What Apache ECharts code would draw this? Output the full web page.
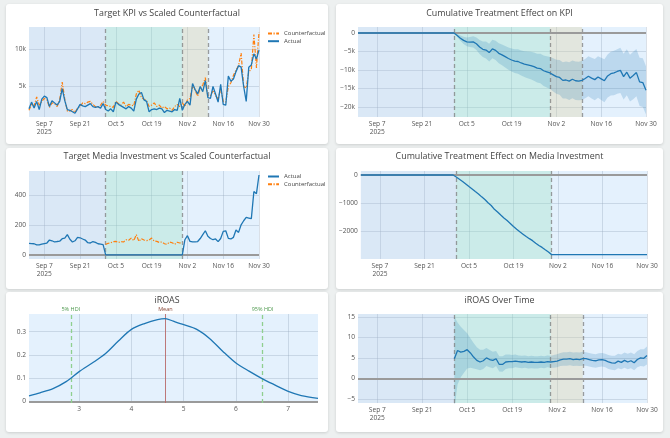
<!DOCTYPE html>
<html>
<head>
<meta charset="utf-8">
<script src="https://cdn.jsdelivr.net/npm/echarts@6/dist/echarts.min.js"></script>
<style>
  html, body { margin: 0; padding: 0; width: 670px; height: 438px; overflow: hidden; background: #edf0f0; }
  .card { position: absolute; background: #fff; border-radius: 3px; box-shadow: 0 1px 3px rgba(0,0,0,0.14); }
  .card > div { width: 100%; height: 100%; }
</style>
</head>
<body>
<div class="card" style="left:6px;top:4px;width:322px;height:140px"><div id="kpi"></div></div>
<div class="card" style="left:336px;top:4px;width:327px;height:140px"><div id="kpiCum"></div></div>
<div class="card" style="left:6px;top:148px;width:322px;height:141px"><div id="media"></div></div>
<div class="card" style="left:336px;top:148px;width:327px;height:141px"><div id="mediaCum"></div></div>
<div class="card" style="left:6px;top:292px;width:322px;height:140px"><div id="iroas"></div></div>
<div class="card" style="left:336px;top:292px;width:327px;height:140px"><div id="iroasTime"></div></div>

<script>
// daily axis Sep 1 - Nov 30 2025
const months = ["Jan","Feb","Mar","Apr","May","Jun","Jul","Aug","Sep","Oct","Nov","Dec"];
const nDays = 91;
const dates = [];
for (let i = 0; i < nDays; i++) {
  const d = new Date(2025, 8, 1 + i);
  dates.push(months[d.getMonth()] + " " + d.getDate());
}
const treatStart = 30, treatEnd = 60, coolEnd = 70; // Oct 1, Oct 31, Nov 10

// target KPI
const kpiActual = [2000,2900,2100,3000,1900,3300,3700,3500,2300,3100,2800,2500,3000,4700,3100,1900,1800,1600,1400,2000,
  2600,2400,2300,2500,2700,2300,2200,2300,2100,2700,1900,1700,2000,1600,2900,2600,2400,2200,2000,2300,
  2100,1700,3300,4000,4200,3200,3000,1600,1900,2000,1900,2100,2000,1500,1800,1700,1600,1900,1800,3400,
  1800,2600,3000,2500,5400,4600,4000,5000,4300,5800,3500,3400,5000,4000,2900,5300,2600,2500,6400,5700,
  6000,7000,7800,7600,5000,3000,7600,7900,9400,8700,9900];
const kpiCounterfactual = [1800,2600,2400,3600,2500,3000,3400,3200,2200,2800,2700,2300,3200,5600,3300,1700,1700,1900,1500,2100,
  2300,2800,2700,2900,3000,2600,2300,2200,2500,3000,2500,2400,2300,2200,3000,2700,2500,2900,2300,2600,
  2500,2400,4000,4500,3500,3300,3100,2300,2500,2800,2300,2500,2100,2300,2000,2100,1800,2300,2600,2300,
  2800,2300,3200,3400,5000,4500,3700,4800,5200,6200,3700,3800,4400,3800,3300,4700,3000,2900,5000,5500,
  6500,7200,7800,9500,5000,4800,7000,7300,12000,7500,12300];

// cumulative treatment effect on KPI
const kpiCumEffect = [0,0,0,0,0,0,0,0,0,0,0,0,0,0,0,0,0,0,0,0,0,0,0,0,0,0,0,0,0,0,
  0,-700,-1400,-2000,-2400,-2450,-2400,-2900,-3800,-4400,-4600,-5300,-4300,-4700,-5500,-5900,-6400,-6900,-7300,-7600,
  -7700,-8100,-8400,-8600,-8800,-9100,-9500,-9600,-10200,-10500,-10800,-11300,-11800,-12000,-12800,-12700,-13000,-12500,-12900,-13000,
  -12800,-12300,-11700,-12200,-12600,-11900,-12400,-12900,-11600,-11000,-10800,-10400,-10100,-11800,-10600,-12200,-11500,-10700,-13200,-13400,-15500];
const kpiCumUpper = [0,-300,-700,-1000,-1200,-1100,-900,-1200,-1900,-2300,-2300,-2900,-1800,-2100,-2800,-3100,-3500,-3900,-4200,-4400,
  -4400,-4700,-4900,-5000,-5100,-5300,-5600,-5600,-6100,-6300,-6500,-6800,-7200,-7300,-7900,-7700,-7900,-7400,-7700,-7800,
  -7500,-7000,-6300,-6700,-7000,-6300,-6700,-7100,-5800,-5100,-4800,-4400,-4000,-5600,-4400,-5900,-5100,-4300,-6700,-6800,-9000];
const kpiCumLower = [0,-1100,-2100,-3000,-3600,-3800,-3900,-4600,-5700,-6500,-6900,-7700,-6800,-7300,-8200,-8700,-9300,-9900,-10400,-10800,
  -11000,-11500,-11900,-12200,-12500,-12900,-13400,-13600,-14300,-14700,-15100,-15800,-16400,-16700,-17700,-17700,-18100,-17600,-18100,-18200,
  -18100,-17600,-17100,-17700,-18200,-17500,-18100,-18700,-17400,-16900,-16800,-16400,-16200,-18000,-16800,-18500,-17900,-17100,-19700,-20000,-22000];

// media investment
const mediaActual = [78,76,75,68,67,72,76,80,100,95,87,90,92,109,112,136,105,87,95,118,
  115,107,100,82,80,90,84,75,72,69,0,0,0,0,0,0,0,0,0,0,
  0,0,0,0,0,0,0,0,0,0,0,0,0,0,0,0,0,0,0,0,
  0,102,129,91,88,87,90,110,136,162,125,110,102,107,89,110,158,162,111,107,
  118,167,151,202,229,251,247,243,425,410,535];
const mediaCounterfactual = [71,78,82,89,91,84,90,87,102,98,113,96,136,91,109,100,96,100,113,93,
  91,84,87,75,71,87,82,71,85,80,82];
const mediaCumEffect = [0,0,0,0,0,0,0,0,0,0,0,0,0,0,0,0,0,0,0,0,0,0,0,0,0,0,0,0,0,0,
  -70,-150,-230,-320,-410,-495,-585,-670,-775,-870,-985,-1080,-1215,-1310,-1420,-1520,-1615,-1715,-1825,-1920,
  -2010,-2095,-2180,-2255,-2325,-2415,-2495,-2565,-2650,-2730,-2820,
  -2820,-2820,-2820,-2820,-2820,-2820,-2820,-2820,-2820,-2820,-2820,-2820,-2820,-2820,-2820,
  -2820,-2820,-2820,-2820,-2820,-2820,-2820,-2820,-2820,-2820,-2820,-2820,-2820,-2820,-2820];

// iROAS posterior density
const iroasX = [2.04,2.25,2.5,2.75,3.0,3.25,3.5,3.75,4.0,4.25,4.5,4.65,4.8,5.0,5.25,5.5,5.75,6.0,6.25,6.5,6.75,7.0,7.25,7.57];
const iroasDensity = [0.024,0.037,0.055,0.085,0.128,0.165,0.205,0.26,0.31,0.335,0.352,0.356,0.345,0.33,0.31,0.27,0.215,0.165,0.13,0.098,0.07,0.043,0.025,0.013];
const hdiLow = 2.84, iroasMean = 4.65, hdiHigh = 6.51;

// iROAS over time (from Oct 1)
const iroasTime = [4.8,6.8,6.4,6.6,7.0,6.2,5.2,4.4,4.0,4.3,5.0,4.6,4.4,4.8,3.4,3.4,4.0,4.1,4.1,4.2,
  4.1,4.0,4.1,3.9,4.0,3.9,3.9,4.0,3.9,4.1,4.0,4.1,4.2,4.5,4.7,4.7,4.8,4.6,4.7,4.6,
  4.8,4.8,4.6,4.4,4.3,4.5,4.6,4.4,4.0,3.8,3.7,4.2,3.9,4.4,4.0,4.3,3.8,4.6,5.0,4.9,5.6];
const iroasUpper = [15.0,13.6,12.6,11.8,11.0,9.8,8.6,7.6,7.0,7.0,7.4,6.9,6.5,6.7,5.4,5.4,5.8,5.8,5.7,5.8,
  5.6,5.5,5.6,5.4,5.5,5.4,5.4,5.5,5.4,5.6,5.5,5.7,5.9,6.2,6.4,6.4,6.5,6.3,6.4,6.3,
  6.5,6.4,6.2,6.0,5.9,6.1,6.2,6.0,5.7,5.5,5.5,6.0,5.8,6.3,6.0,6.3,5.9,6.7,7.1,7.1,7.8];
const iroasLower = [-7.5,-1.5,0.3,1.4,2.4,2.6,2.4,2.2,2.0,2.3,3.0,2.7,2.5,3.0,1.7,1.6,2.3,2.5,2.5,2.7,
  2.6,2.5,2.6,2.4,2.5,2.4,2.4,2.6,2.5,2.7,2.6,2.6,2.7,3.0,3.1,3.1,3.2,3.0,3.1,3.0,
  3.1,3.1,2.9,2.7,2.6,2.8,2.9,2.7,2.3,2.1,2.0,2.5,2.2,2.6,2.2,2.5,2.0,2.7,3.0,2.9,3.4];

// ---- styles ----
const FONT = "Open Sans";
const TXT = "#555";
const TICK = 6.6, TITLE = 8.9, LEG = 6.0;
const PLOT_BG = "#e4f1fd";
const GRID = "rgba(150,165,185,0.35)";
const PRE = "rgba(180,200,225,0.22)";
const TREAT = "rgba(151,224,193,0.32)";
const COOL = "rgba(225,208,160,0.32)";
const DASH = "rgba(125,125,125,0.75)";
const BLUE = "#1f77b4", ORANGE = "#ff7f0e";
const BAND = "rgba(31,119,180,0.2)";

// pre-period gap for series that start on Oct 1
const gap = (arr, from) => Array(from).fill(null).concat(arr);

const kFmt = (v) => (v === 0 ? "0" : (v < 0 ? "\u2212" : "") + Math.abs(v) / 1000 + "k");
const numFmt = (v) => (v < 0 ? "\u2212" + Math.abs(v) : String(v));
const tickIdx = (i) => (i - 6) % 14 === 0;

function title(text, top) {
  return { text, left: "center", top, padding: 0,
    textStyle: { fontSize: TITLE, fontWeight: "normal", color: "#444", fontFamily: FONT } };
}

function dayAxis() {
  return {
    type: "category", data: dates, boundaryGap: false,
    axisLine: { show: false }, axisTick: { show: false },
    axisLabel: { interval: tickIdx, color: TXT, fontSize: TICK, fontFamily: FONT, margin: 3, lineHeight: 8,
      formatter: (v, i) => (i === 6 ? v + "\n2025" : v) },
    splitLine: { show: true, interval: tickIdx, lineStyle: { color: GRID, width: 1 } },
  };
}

function valAxis(min, max, split, fmt) {
  return {
    type: "value", min, max, splitNumber: split,
    axisLine: { show: false }, axisTick: { show: false },
    axisLabel: { formatter: fmt, color: TXT, fontSize: TICK, fontFamily: FONT, margin: 3,
      showMinLabel: false, showMaxLabel: false },
    splitLine: { lineStyle: { color: GRID, width: 1 }, showMinLine: false, showMaxLine: false },
  };
}

function grid(left, top, width, height) {
  return { left, top, width, height, show: true, backgroundColor: PLOT_BG, borderWidth: 0 };
}

function shading(withCool) {
  const d = [
    [{ xAxis: 0, itemStyle: { color: PRE } }, { xAxis: treatStart }],
    [{ xAxis: treatStart, itemStyle: { color: TREAT } }, { xAxis: treatEnd }],
  ];
  if (withCool) d.push([{ xAxis: treatEnd, itemStyle: { color: COOL } }, { xAxis: coolEnd }]);
  return { silent: true, data: d };
}

function vlines(withCool, zero) {
  const d = [{ xAxis: treatStart }, { xAxis: treatEnd }];
  if (withCool) d.push({ xAxis: coolEnd });
  if (zero) d.push({ yAxis: 0, lineStyle: { color: "#9a9a9a", type: "solid", width: 1.8 } });
  return { silent: true, symbol: "none", label: { show: false },
    lineStyle: { color: DASH, type: [4, 3], width: 1.3 }, data: d };
}

function band(lo, hi) {
  return [
    { name: "lo", type: "line", data: lo, stack: "band", stackStrategy: "all", symbol: "none",
      lineStyle: { opacity: 0 }, silent: true, z: 2 },
    { name: "band", type: "line", data: hi.map((h, i) => (h == null ? null : h - lo[i])), stack: "band",
      stackStrategy: "all", symbol: "none", lineStyle: { opacity: 0 }, areaStyle: { color: BAND, opacity: 1 },
      silent: true, z: 2 },
  ];
}

const legendBase = { orient: "vertical", padding: 0, itemWidth: 11, itemHeight: 7, itemGap: 1.7,
  itemStyle: { opacity: 0 },
  textStyle: { fontSize: LEG, color: "#444", fontFamily: FONT } };

// ---- 1. KPI vs counterfactual ----
echarts.init(document.getElementById("kpi")).setOption({
  animation: false,
  textStyle: { fontFamily: FONT },
  title: title("Target KPI vs Scaled Counterfactual", 5),
  legend: { ...legendBase, left: 261, top: 26.5, data: ["Counterfactual", "Actual"] },
  grid: grid(23, 23, 230, 90),
  xAxis: dayAxis(),
  yAxis: valAxis(900, 13000, 2, kFmt),
  series: [
    { name: "Counterfactual", type: "line", data: kpiCounterfactual, symbol: "none",
      lineStyle: { color: ORANGE, width: 1.2, type: [4, 1.5, 1.2, 1.5] }, itemStyle: { color: ORANGE },
      markArea: shading(true), markLine: vlines(true, false) },
    { name: "Actual", type: "line", data: kpiActual, symbol: "none", z: 6,
      lineStyle: { color: BLUE, width: 1.3 }, itemStyle: { color: BLUE } },
  ],
});

// ---- 2. cumulative effect on KPI ----
echarts.init(document.getElementById("kpiCum")).setOption({
  animation: false,
  textStyle: { fontFamily: FONT },
  title: title("Cumulative Treatment Effect on KPI", 5),
  grid: grid(22, 23, 288, 90),
  xAxis: dayAxis(),
  yAxis: valAxis(-22700, 1620, 5, kFmt),
  series: [
    ...band(gap(kpiCumLower, treatStart), gap(kpiCumUpper, treatStart)).map((s, i) =>
      i === 0 ? { ...s, markArea: shading(true), markLine: vlines(true, true) } : s),
    { name: "Effect", type: "line", data: kpiCumEffect, symbol: "none", z: 6,
      lineStyle: { color: BLUE, width: 1.3 } },
  ],
});

// ---- 3. media vs counterfactual ----
echarts.init(document.getElementById("media")).setOption({
  animation: false,
  textStyle: { fontFamily: FONT },
  title: title("Target Media Investment vs Scaled Counterfactual", 4),
  legend: { ...legendBase, left: 261, top: 25.5, data: ["Actual", "Counterfactual"] },
  grid: grid(23, 23, 230, 88),
  xAxis: dayAxis(),
  yAxis: valAxis(-27, 562, 3, numFmt),
  series: [
    { name: "Actual", type: "line", data: mediaActual, symbol: "none", z: 6,
      lineStyle: { color: BLUE, width: 1.3 }, itemStyle: { color: BLUE },
      markArea: shading(false), markLine: { ...vlines(false, true), z: 1 } },
    { name: "Counterfactual", type: "line", data: gap(mediaCounterfactual, treatStart), symbol: "none", z: 7,
      lineStyle: { color: ORANGE, width: 1.2, type: [4, 1.5, 1.2, 1.5] }, itemStyle: { color: ORANGE } },
  ],
});

// ---- 4. cumulative effect on media ----
echarts.init(document.getElementById("mediaCum")).setOption({
  animation: false,
  textStyle: { fontFamily: FONT },
  title: title("Cumulative Treatment Effect on Media Investment", 4),
  grid: grid(24, 23, 287, 88),
  xAxis: dayAxis(),
  yAxis: valAxis(-2975, 141, 3, numFmt),
  series: [
    { name: "Effect", type: "line", data: mediaCumEffect, symbol: "none", z: 6,
      lineStyle: { color: BLUE, width: 1.3 },
      markArea: shading(false), markLine: { ...vlines(false, true), z: 1 } },
  ],
});

// ---- 5. iROAS density ----
const hdiLine = (x, text) => ({ xAxis: x, lineStyle: { color: "#8fcf8f", type: [4, 3], width: 1.3 },
  label: { show: true, formatter: text, color: "#4f9a4f" } });
echarts.init(document.getElementById("iroas")).setOption({
  animation: false,
  textStyle: { fontFamily: FONT },
  title: title("iROAS", 4),
  grid: grid(23, 22, 289, 89),
  xAxis: { ...valAxis(2.04, 7.57, 5, null), splitLine: { lineStyle: { color: GRID }, showMinLine: false, showMaxLine: false } },
  yAxis: valAxis(-0.007, 0.376, 4, null),
  series: [
    { name: "Density", type: "line", data: iroasX.map((x, i) => [x, iroasDensity[i]]), symbol: "none",
      smooth: 0.3, z: 6, lineStyle: { color: BLUE, width: 1.3 },
      markLine: {
        silent: true, symbol: "none",
        label: { position: "end", distance: 1.5, fontSize: 5.5, fontFamily: FONT },
        data: [
          { yAxis: 0, lineStyle: { color: "#9a9a9a", type: "solid", width: 1.8 }, label: { show: false } },
          hdiLine(hdiLow, "5% HDI"),
          { xAxis: iroasMean, lineStyle: { color: "#b86a6a", type: "solid", width: 0.9 },
            label: { show: true, formatter: "Mean", color: "#8a4a3a" } },
          hdiLine(hdiHigh, "95% HDI"),
        ],
      } },
  ],
});

// ---- 6. iROAS over time ----
echarts.init(document.getElementById("iroasTime")).setOption({
  animation: false,
  textStyle: { fontFamily: FONT },
  title: title("iROAS Over Time", 4),
  grid: grid(22, 22, 289, 89),
  xAxis: dayAxis(),
  yAxis: valAxis(-6, 15.7, 4, numFmt),
  series: [
    ...band(gap(iroasLower, treatStart), gap(iroasUpper, treatStart)).map((s, i) =>
      i === 0 ? { ...s, markArea: shading(true), markLine: vlines(true, true) } : s),
    { name: "iROAS", type: "line", data: gap(iroasTime, treatStart), symbol: "none", z: 6,
      lineStyle: { color: BLUE, width: 1.3 } },
  ],
});
</script>
</body>
</html>
